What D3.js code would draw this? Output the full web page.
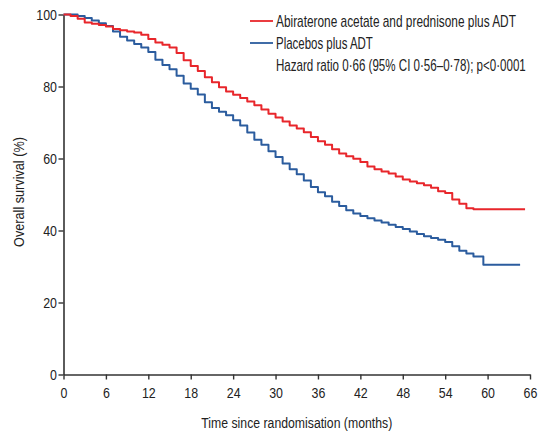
<!DOCTYPE html>
<html>
<head>
<meta charset="utf-8">
<script src="https://cdn.jsdelivr.net/npm/d3@7"></script>
<style>
  html, body { margin: 0; padding: 0; background: #fff; }
  svg { display: block; }
  text { font-family: "Liberation Sans", Arial, sans-serif; fill: #222; }
</style>
</head>
<body>
<svg id="chart" width="538" height="433"></svg>
<script>
// Kaplan-Meier overall survival, step points (months, % surviving)
const abiTime = [0,1,2,3,4,5,6,7,8,9,10,11,12,13,14,15,16,17,18,19,20,21,22,23,24,25,26,27,28,29,30,31,32,33,34,35,36,37,38,39,40,41,42,43,44,45,46,47,48,49,50,51,52,53,54,55,56,57,58,65.3];
const abiSurv = [100,99.6,98.8,97.8,97.4,97.1,96.7,96.0,95.6,95.3,95.0,94.4,93.2,92.2,91.6,90.8,89.3,87.3,85.7,84.3,82.6,81.2,79.8,78.6,77.7,76.8,75.8,74.8,73.6,72.4,71.4,70.3,69.2,68.3,67.3,66.0,64.8,63.8,62.6,61.4,60.6,59.9,59.0,57.8,57.0,56.4,55.8,55.0,54.2,53.6,53.1,52.6,51.9,50.9,50.4,48.6,47.4,46.2,45.9,45.9];

const plaTime = [0,1,2,3,4,5,6,7,8,9,10,11,12,13,14,15,16,17,18,19,20,21,22,23,24,25,26,27,28,29,30,31,32,33,34,35,36,37,38,39,40,41,42,43,44,45,46,47,48,49,50,51,52,53,54,55,56,57,58,59.4,64.6];
const plaSurv = [100,100,99.6,99.0,98.3,97.6,96.8,95.3,93.8,92.8,91.8,90.8,89.6,87.4,86.0,84.8,83.0,80.8,79.4,77.8,75.6,74.0,73.0,72.0,70.6,69.2,67.2,65.2,63.8,62.0,60.4,58.6,57.0,55.6,53.9,52.1,50.6,49.5,48.0,46.8,45.6,44.7,44.0,43.4,42.8,42.2,41.6,41.0,40.4,39.7,39.0,38.4,37.9,37.4,36.8,35.6,34.4,33.6,32.8,30.5,30.5];

const xTicks = [0,6,12,18,24,30,36,42,48,54,60,66];
const yTicks = [0,20,40,60,80,100];

const seriesNames = ["Abiraterone acetate and prednisone plus ADT", "Placebos plus ADT"];
const seriesColors = ["#e8262b", "#2b5c9e"];
const statText = "Hazard ratio 0·66 (95% CI 0·56–0·78); p<0·0001";
const xTitle = "Time since randomisation (months)";
const yTitle = "Overall survival (%)";

const svg = d3.select("#chart");
const margin = { left: 63.5, right: 8, top: 14.5, bottom: 58.5 };
const W = 538, H = 433;

const x = d3.scaleLinear().domain([0, 66]).range([margin.left, W - margin.right]);
const y = d3.scaleLinear().domain([0, 100]).range([H - margin.bottom, margin.top]);

const axisColor = "#333";
const CONDENSE = 0.8;

// text squeezed horizontally (condensed look) to a given width
function narrowText(parent, tx, ty, str, size, width, anchor, rotate) {
  const g = parent.append("g");
  const t = g.append("text")
    .attr("font-size", size)
    .attr("text-anchor", anchor || "start")
    .text(str);
  const k = width / t.node().getComputedTextLength();
  g.attr("transform", `translate(${tx},${ty})${rotate ? ` rotate(${rotate})` : ""} scale(${k},1)`);
  return t;
}

// squeeze the axis tick labels the same way
function narrowTicks(g) {
  g.selectAll(".tick text").each(function () {
    const t = d3.select(this);
    const x0 = +t.attr("x") || 0;
    t.attr("x", x0 / CONDENSE).attr("transform", `scale(${CONDENSE},1)`);
  });
}

// x axis
const gx = svg.append("g")
  .attr("transform", `translate(0,${y(0)})`)
  .call(d3.axisBottom(x).tickValues(xTicks).tickSize(5).tickPadding(7).tickSizeOuter(0));
gx.select(".domain").attr("stroke", axisColor).attr("stroke-width", 1.6);
gx.selectAll(".tick line").attr("stroke", axisColor).attr("stroke-width", 1.4);
gx.selectAll(".tick text").attr("font-size", 15.5).attr("fill", "#222")
  .style("font-family", '"Liberation Sans", Arial, sans-serif');
narrowTicks(gx);

// y axis
const gy = svg.append("g")
  .attr("transform", `translate(${x(0)},0)`)
  .call(d3.axisLeft(y).tickValues(yTicks).tickSize(5).tickPadding(1.5).tickSizeOuter(0));
gy.select(".domain").attr("stroke", axisColor).attr("stroke-width", 1.6);
gy.selectAll(".tick line").attr("stroke", axisColor).attr("stroke-width", 1.4);
gy.selectAll(".tick text").attr("font-size", 15.5).attr("fill", "#222")
  .style("font-family", '"Liberation Sans", Arial, sans-serif');
narrowTicks(gy);

// axis titles
narrowText(svg, (x(0) + x(66)) / 2, 428, xTitle, 15.5, 191, "middle");
narrowText(svg, 24, 192, yTitle, 15, 110, "middle", -90);

// survival curves
const line = d3.line()
  .x(d => x(d[0]))
  .y(d => y(d[1]))
  .curve(d3.curveStepAfter);

const curves = [
  d3.zip(abiTime, abiSurv),
  d3.zip(plaTime, plaSurv)
];

// draw placebo first so the treatment curve sits on top
[1, 0].forEach(i => {
  svg.append("path")
    .datum(curves[i])
    .attr("fill", "none")
    .attr("stroke", seriesColors[i])
    .attr("stroke-width", 2)
    .attr("stroke-linejoin", "round")
    .attr("d", line);
});

// legend
const legendWidths = [240, 97];
const lg = svg.append("g").attr("transform", "translate(250,0)");
seriesNames.forEach((name, i) => {
  const yy = 21 + i * 22;
  lg.append("line")
    .attr("x1", 0).attr("x2", 23)
    .attr("y1", yy).attr("y2", yy)
    .attr("stroke", seriesColors[i])
    .attr("stroke-width", 1.8);
  narrowText(lg, 26, yy + 5.5, name, 16, legendWidths[i]);
});
narrowText(lg, 26, 21 + 2 * 22 + 5.5, statText, 16, 250);
</script>
</body>
</html>
